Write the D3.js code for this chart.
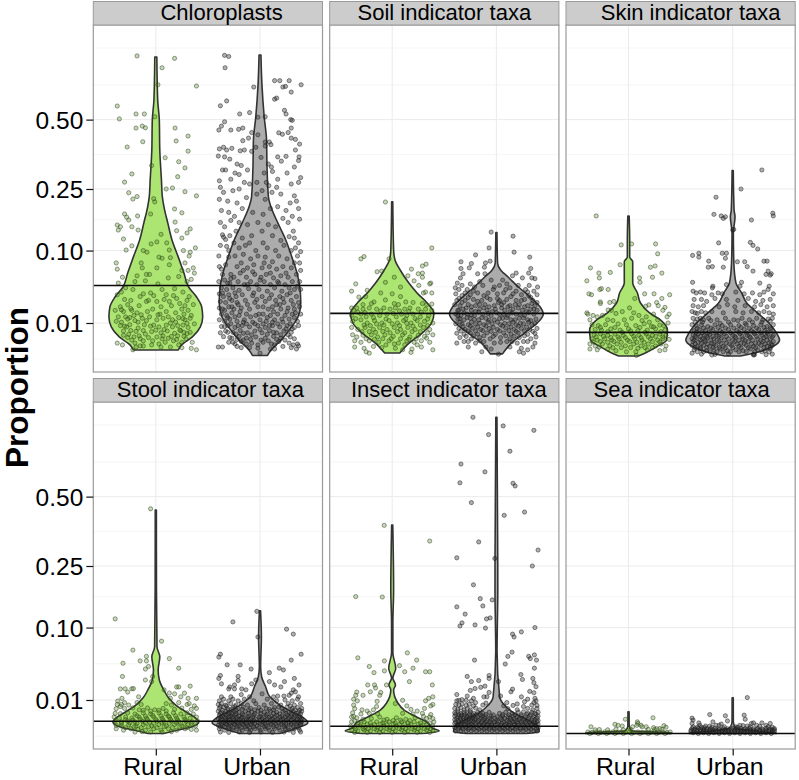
<!DOCTYPE html>
<html><head><meta charset="utf-8">
<script src="https://cdnjs.cloudflare.com/ajax/libs/d3/7.8.5/d3.min.js"></script>
<style>html,body{margin:0;padding:0;background:#fff}svg{display:block}</style></head>
<body><svg id="c" width="799" height="780"></svg>
<script>
const groups=["Rural","Urban"];
const panelTitles=["Chloroplasts","Soil indicator taxa","Skin indicator taxa","Stool indicator taxa","Insect indicator taxa","Sea indicator taxa"];
const yTickValues=[0.01,0.10,0.25,0.50];
const yTickLabels=["0.01","0.10","0.25","0.50"];
const yMinorValues=[-0.00006,0.0433,0.1665,0.364,0.657,0.848];
const panelMeans=[0.045,0.0166,0.0052,0.00133,0.00046,0];
// violins: [proportion, relative density]
const chloroRuralViolin=[[.799,.022],[.586,.04],[.498,.075],[.38,.085],[.278,.12],[.227,.14],[.199,.175],[.159,.255],[.121,.345],[.088,.48],[.062,.6],[.043,.7],[.0315,.87],[.0218,.98],[.0139,1],[.0078,.95],[.0034,.78],[.0012,.55],[.00038,.48]];
const chloroUrbanViolin=[[.81,.02],[.666,.04],[.511,.09],[.418,.14],[.32,.15],[.227,.18],[.199,.235],[.159,.38],[.121,.55],[.088,.68],[.062,.79],[.043,.85],[.0255,.87],[.0139,.81],[.0062,.62],[.0024,.45],[.00038,.235],[.00001,.16]];
const soilRuralViolin=[[.2135,.012],[.101,.03],[.083,.06],[.0667,.17],[.048,.355],[.036,.53],[.0255,.745],[.0166,.89],[.01,.84],[.0049,.64],[.0016,.36],[.00011,.16]];
const soilUrbanViolin=[[.137,.012],[.078,.025],[.0667,.09],[.056,.255],[.043,.47],[.0315,.72],[.0218,.935],[.016,1],[.01,.87],[.0049,.6],[.0016,.32],[.00006,.13]];
const skinRuralViolin=[[.176,.014],[.121,.025],[.088,.025],[.08,.09],[.048,.09],[.036,.19],[.0255,.255],[.0169,.45],[.0119,.68],[.0062,.83],[.0024,.81],[.00085,.6],[.00011,.36],[.000002,.21]];
const skinUrbanViolin=[[.308,.012],[.191,.03],[.174,.05],[.136,.014],[.078,.025],[.048,.07],[.036,.19],[.0255,.3],[.0169,.53],[.01,.77],[.0049,.935],[.0024,1],[.00085,.85],[.00011,.47],[.000002,.17]];
const stoolRuralViolin=[[.445,.012],[.184,.014],[.067,.025],[.0525,.085],[.036,.05],[.0255,.075],[.0169,.17],[.0112,.275],[.0072,.425],[.0042,.64],[.0021,.85],[.0012,.915],[.0004,.77],[.00003,.32],[0,.17]];
const stoolUrbanViolin=[[.134,.012],[.0835,.03],[.04,.014],[.0287,.035],[.0195,.12],[.012,.21],[.0072,.425],[.0042,.68],[.0021,.935],[.00098,1.02],[.00038,.85],[0,.425]];
const insectRuralViolin=[[.387,.012],[.184,.03],[.109,.014],[.0577,.014],[.038,.075],[.0274,.014],[.021,.07],[.0169,.03],[.0083,.12],[.0049,.255],[.0025,.51],[.00098,.77],[.00027,.85],[.00006,1],[0,.64]];
const insectUrbanViolin=[[.891,.012],[.184,.03],[.06,.014],[.012,.07],[.0072,.17],[.0037,.38],[.0016,.68],[.0004,.89],[.00003,.915],[0,.64]];
const seaRuralViolin=[[.0042,.012],[.0005,.014],[.00006,.07],[.000005,.915],[0,.915]];
const seaUrbanViolin=[[.0114,.012],[.0012,.014],[.00027,.07],[.00006,.425],[.000002,.935],[0,.935]];
// jittered points: [jitter, proportion]
const chloroRuralPts=[[-.18,.805],[.18,.792],[.06,.743],[.02,.658],[.39,.652],[-.37,.559],[-.35,.503],[-.19,.524],[-.11,.524],[-.01,.512],[-.19,.465],[-.13,.473],[-.1,.466],[.185,.465],[.31,.433],[-.125,.411],[.195,.414],[-.275,.391],[.31,.376],[.09,.352],[.22,.338],[-.04,.325],[.28,.317],[-.23,.297],[.21,.288],[-.3,.271],[.1,.25],[.16,.253],[.28,.242],[-.26,.239],[-.18,.228],[-.22,.221],[-.02,.222],[.39,.23],[.18,.194],[.25,.184],[.185,.161],[-.05,.181],[-.01,.213],[-.3,.181],[-.28,.173],[-.175,.176],[-.26,.166],[-.37,.154],[-.34,.15],[-.23,.15],[-.36,.1425],[.33,.145],[.3,.136],[-.17,.1425],[.2,.141],[-.31,.123],[.25,.125],[.05,.133],[.01,.117],[-.045,.113],[.105,.115],[-.23,.109],[-.285,.101],[-.12,.1],[-.085,.097],[.13,.101],[.265,.1],[.33,.097],[.38,.105],[.03,.088],[.14,.087],[.32,.09],[.06,.086],[.01,.07],[-.38,.078],[-.37,.068],[-.14,.078],[-.13,.07],[.13,.075],[.28,.078],[.31,.066],[.37,.062],[.36,.07],[.25,.066],[-.06,.06],[-.18,.058],[-.09,.06],[-.32,.056],[-.36,.048],[.12,.055],[.22,.057],[.3,.05],[.34,.053],[-.2,.05],[-.1,.051],[.02,.047],[-.29,.042],[-.22,.04],[.06,.04],[.18,.041],[.26,.037],[-.37,.034],[-.33,.037],[-.12,.035],[-.05,.036],[-.02,.033],[.1,.034],[.2,.03],[.32,.032],[-.3,.029],[-.24,.028],[-.07,.028],[.01,.027],[.13,.027],[.23,.025],[.3,.028],[.36,.024],[-.34,.022],[-.27,.024],[-.16,.023],[.05,.022],[.15,.023],[.25,.02],[-.39,.019],[-.31,.018],[-.23,.019],[-.18,.017],[-.08,.018],[-.03,.02],[.04,.016],[.1,.018],[.19,.017],[.27,.016],[.31,.019],[.34,.015],[-.36,.014],[-.29,.014],[-.25,.0135],[-.21,.015],[-.13,.013],[-.06,.014],[.01,.012],[.07,.013],[.16,.012],[.22,.0135],[.28,.012],[.33,.013],[-.38,.011],[-.33,.0105],[-.3,.0082],[-.25,.009],[-.17,.0105],[-.11,.009],[-.05,.0082],[.03,.0078],[.1,.0088],[.14,.01],[.21,.0085],[.26,.0088],[.31,.0075],[.37,.0095],[-.31,.0058],[-.24,.006],[-.19,.0056],[-.12,.006],[-.04,.0055],[.05,.005],[.11,.0058],[.18,.0048],[.24,.006],[.3,.0047],[-.31,.004],[-.27,.0032],[-.21,.0034],[-.15,.0028],[-.07,.0032],[.01,.0034],[.06,.0028],[.12,.003],[.2,.0026],[.27,.0036],[.29,.0028],[-.37,.0016],[-.32,.0012],[-.2,.0016],[-.15,.001],[-.04,.0012],[.03,.0014],[.22,.0012],[.35,.0018],[-.22,.0004],[-.12,.001],[.34,.0006],[.39,.0004]];
const chloroRuralExtra=[[-.33,.0195],[-.27,.0125],[-.24,.0205],[-.28,.0078],[-.34,.0085],[-.2,.0115],[-.14,.0155],[-.17,.0072],[-.09,.0115],[-.02,.0088],[.02,.0155],[.08,.0065],[.12,.014],[.16,.0078],[.19,.0105],[.23,.0062],[.26,.0128],[.3,.0098],[.33,.0052],[-.26,.0044],[-.16,.0038],[-.1,.0045],[0,.0062],[.07,.0038],[.15,.0036],[.21,.0038],[.27,.0052],[-.23,.0024],[-.12,.0022],[-.03,.0022],[.09,.0018],[.17,.0022],[.25,.0018],[-.19,.0008],[.05,.0008],[.14,.0008],[.25,.0007],[-.09,.027],[-.15,.032],[.08,.029],[.17,.033],[.28,.023]];
const chloroUrbanPts=[[-.34,.808],[-.3,.802],[-.335,.743],[.14,.678],[.19,.678],[.28,.678],[.395,.658],[-.06,.647],[.22,.647],[.245,.65],[.3,.623],[.14,.59],[.16,.595],[-.32,.582],[-.38,.56],[.235,.54],[-.1,.53],[-.195,.524],[.25,.524],[.05,.512],[-.02,.51],[-.34,.491],[.295,.5],[.31,.497],[-.37,.473],[-.395,.457],[-.28,.457],[-.205,.46],[-.165,.465],[.3,.465],[.18,.446],[.215,.44],[.27,.447],[-.08,.447],[-.02,.438],[-.11,.425],[.3,.425],[.34,.42],[-.165,.415],[.05,.41],[.09,.41],[.38,.402],[.105,.4],[-.39,.384],[-.35,.39],[-.32,.38],[-.27,.386],[-.19,.377],[-.15,.38],[-.08,.375],[-.04,.39],[.05,.395],[.34,.38],[-.4,.358],[-.34,.355],[-.29,.347],[.375,.355],[.17,.355],[.25,.357],[.205,.34],[.37,.342],[.01,.353],[-.22,.33],[-.18,.325],[.08,.33],[.11,.32],[.33,.32],[-.36,.31],[-.33,.31],[-.24,.3],[-.2,.295],[-.12,.31],[.04,.3],[.12,.305],[.26,.3],[.39,.285],[.17,.28],[-.39,.275],[-.28,.28],[-.15,.27],[-.1,.265],[-.03,.27],[.06,.27],[.085,.26],[.16,.255],[.3,.265],[.37,.27],[-.38,.255],[-.35,.24],[-.26,.245],[-.2,.25],[.02,.245],[.115,.24],[.2,.235],[.33,.23],[-.39,.22],[-.31,.215],[-.22,.21],[-.13,.225],[-.03,.235],[.05,.22],[.29,.21],[.35,.215],[.37,.195],[.25,.19],[.17,.2],[.1,.195],[-.17,.195],[-.37,.19],[-.3,.185],[-.245,.175],[-.07,.185],[.03,.18],[.22,.17],[.31,.175],[.38,.168],[-.38,.16],[-.34,.15],[-.28,.165],[-.2,.16],[-.12,.155],[-.02,.16],[.08,.155],[.15,.15],[.27,.16],[.32,.14],[-.36,.132],[-.35,.127],[-.33,.122],[-.29,.13],[-.23,.14],[-.17,.125],[-.08,.13],[.02,.14],[.12,.13],[.2,.12],[.28,.128],[.33,.125],[.37,.115],[-.38,.11],[-.32,.108],[-.3,.1],[-.25,.115],[-.2,.105],[-.14,.11],[-.1,.115],[-.04,.1],[.03,.115],[.07,.105],[.15,.1],[.23,.11],[.3,.1],[.34,.105],[.39,.098],[-.395,.09],[-.3,.088],[-.24,.09],[-.16,.093],[-.09,.085],[-.02,.09],[.05,.088],[.12,.08],[.18,.09],[.26,.085],[.36,.09],[.38,.078],[-.39,.072],[-.37,.068],[-.33,.075],[-.22,.072],[-.18,.078],[-.12,.07],[-.06,.075],[.02,.07],[.09,.072],[.16,.068],[.22,.072],[.3,.07],[.33,.078],[.39,.066],[-.36,.06],[-.28,.06],[-.25,.056],[-.19,.062],[-.13,.056],[-.05,.06],[.01,.056],[.06,.06],[.13,.055],[.2,.058],[.27,.056],[.35,.06],[-.395,.05],[-.34,.052],[-.29,.048],[-.21,.05],[-.15,.046],[-.09,.05],[-.03,.046],[.04,.05],[.1,.046],[.17,.05],[.24,.046],[.31,.05],[.38,.05],[-.37,.042],[-.32,.04],[-.26,.042],[-.2,.039],[-.11,.041],[-.01,.04],[.07,.038],[.14,.042],[.21,.038],[.28,.042],[.33,.04],[.39,.04],[-.39,.035],[-.35,.032],[-.3,.034],[-.23,.032],[-.17,.034],[-.07,.033],[.02,.032],[.11,.034],[.19,.032],[.26,.034],[.35,.032],[-.38,.027],[-.33,.026],[-.27,.028],[-.22,.026],[-.14,.028],[-.05,.026],[.05,.027],[.15,.028],[.23,.026],[.3,.028],[.37,.026],[-.39,.021],[-.36,.02],[-.3,.022],[-.25,.02],[-.18,.021],[-.1,.02],[-.02,.022],[.08,.02],[.12,.022],[.2,.02],[.27,.021],[.33,.02],[.38,.022],[-.37,.016],[-.32,.015],[-.27,.017],[-.2,.015],[-.13,.016],[-.04,.015],[.03,.016],[.1,.015],[.17,.016],[.24,.015],[.31,.016],[.39,.016],[-.39,.012],[-.34,.011],[-.29,.0125],[-.22,.011],[-.15,.012],[-.07,.0105],[0,.012],[.06,.011],[.14,.012],[.22,.0105],[.28,.0125],[.36,.011],[-.37,.008],[-.31,.0085],[-.24,.0075],[-.17,.0085],[-.1,.0078],[-.02,.0085],[.05,.0075],[.12,.0085],[.19,.0078],[.26,.0085],[.33,.0075],[.37,.0085],[-.38,.005],[-.33,.0058],[-.26,.0052],[-.19,.006],[-.12,.005],[-.05,.0058],[.02,.005],[.09,.006],[.16,.005],[.23,.0058],[.3,.0052],[-.35,.0035],[-.27,.003],[-.2,.0036],[-.13,.003],[-.04,.0034],[.05,.003],[.13,.0036],[.2,.003],[.29,.0034],[.33,.0028],[-.3,.0018],[-.24,.0014],[-.18,.002],[-.08,.0016],[.03,.0018],[.11,.0014],[.18,.002],[.28,.0016],[.36,.0014],[-.4,.0008],[-.36,.0008],[-.22,.0009],[-.1,.0007],[-.02,.0006],[.1,.0005],[.14,.0005],[.35,.0005],[0,.0001],[.37,.001]];
const chloroUrbanExtra=[[-.31,.048],[-.24,.036],[-.28,.054],[-.16,.066],[-.07,.064],[.04,.078],[.1,.062],[.18,.048],[.25,.062],[.29,.036],[.36,.044],[-.36,.036],[-.29,.03],[-.21,.024],[-.12,.046],[-.06,.036],[0,.052],[.09,.03],[.16,.024],[.22,.03],[.32,.024],[-.34,.019],[-.27,.022],[-.19,.018],[-.12,.024],[-.03,.029],[.03,.022],[.13,.018],[.19,.024],[.26,.018],[.34,.017],[-.31,.0135],[-.24,.014],[-.16,.0105],[-.09,.014],[-.01,.016],[.07,.0135],[.12,.0105],[.21,.0125],[.29,.0095],[.33,.0135],[-.34,.008],[-.28,.0095],[-.21,.0085],[-.13,.0095],[-.05,.0095],[.03,.0095],[.09,.0085],[.17,.0095],[.25,.0068],[.31,.0068],[-.31,.0052],[-.23,.0044],[-.16,.0048],[-.08,.0042],[0,.0065],[.07,.0044],[.13,.0052],[.2,.0042],[.27,.0042],[-.29,.0032],[-.22,.0026],[-.16,.0024],[-.09,.0026],[.01,.0024],[.08,.0022],[.16,.0026],[.24,.0024],[-.26,.0018],[-.13,.0014],[-.02,.0012],[.14,.0012],[.32,.0012],[-.18,.0007],[.22,.0009],[.3,.0007]];
const soilRuralPts=[[-.065,.2127],[.38,.105],[-.27,.089],[-.3,.085],[-.03,.085],[.325,.076],[.29,.073],[.185,.068],[-.145,.064],[-.1,.065],[.29,.062],[.25,.061],[.29,.056],[.15,.058],[.02,.056],[.21,.051],[.37,.048],[-.35,.047],[.36,.047],[-.065,.049],[.08,.043],[-.39,.038],[-.24,.039],[.255,.045],[.32,.037],[.38,.036],[.3,.036],[-.32,.0315],[-.255,.032],[-.11,.036],[0,.035],[.08,.032],[-.065,.0285],[.13,.0265],[-.175,.0265],[.38,.0245],[-.2,.025],[-.28,.024],[.02,.025],[.06,.024],[.2,.026],[.29,.025],[.33,.024],[-.39,.021],[-.37,.019],[-.34,.021],[-.28,.02],[-.22,.021],[-.15,.02],[-.08,.021],[-.02,.02],[.03,.021],[.12,.02],[.17,.021],[.25,.02],[.32,.02],[.38,.019],[-.39,.015],[-.3,.016],[-.25,.014],[-.2,.016],[-.12,.015],[-.05,.016],[.04,.014],[.09,.016],[.14,.015],[.2,.016],[.27,.014],[.35,.015],[-.38,.011],[-.3,.012],[-.24,.01],[-.17,.0115],[-.1,.01],[-.03,.0115],[.05,.01],[.11,.0115],[.18,.01],[.24,.0115],[.31,.011],[.39,.01],[-.39,.0075],[-.33,.0065],[-.26,.0075],[-.18,.0065],[-.12,.0075],[-.05,.0065],[.02,.0075],[.08,.0065],[.15,.0075],[.22,.0065],[.3,.0075],[.36,.0065],[-.38,.0042],[-.34,.0034],[-.28,.004],[-.2,.0042],[-.14,.0034],[-.07,.0042],[.01,.0036],[.1,.0042],[.17,.0034],[.25,.004],[.31,.0036],[.39,.0042],[-.36,.0022],[-.3,.0018],[-.22,.0022],[-.13,.0018],[-.03,.0022],[.06,.0016],[.14,.0022],[.21,.0018],[.28,.0022],[.36,.0018],[-.36,.0008],[-.27,.0006],[-.18,.0009],[-.1,.0007],[.03,.0006],[.1,.0004],[.19,.0005],[.28,.0008],[.39,.0004],[-.25,.0002],[-.22,.0001],[.18,.00015]];
const soilRuralExtra=[[-.33,.0175],[-.26,.0172],[-.18,.0135],[-.11,.0185],[-.06,.0125],[.01,.0165],[.07,.0185],[.13,.0125],[.16,.018],[.22,.0128],[.28,.0175],[.34,.0125],[-.35,.0128],[-.27,.0088],[-.21,.0085],[-.15,.0095],[-.08,.0088],[0,.0095],[.07,.0085],[.14,.0098],[.2,.0082],[.27,.0088],[.34,.0085],[-.29,.0055],[-.22,.0055],[-.16,.0052],[-.09,.0056],[-.02,.005],[.05,.0055],[.12,.005],[.19,.0055],[.27,.0055],[.34,.005],[-.25,.0028],[-.17,.0026],[-.09,.0028],[-.01,.0028],[.08,.0028],[.16,.0026],[.23,.0028],[.33,.003],[-.06,.0012],[.02,.0014],[.12,.0012],[.24,.0012]];
const soilUrbanPts=[[-.05,.138],[.16,.129],[-.07,.105],[.17,.097],[-.2,.092],[.32,.088],[-.34,.08],[-.06,.081],[-.105,.078],[-.24,.077],[-.26,.07],[-.34,.069],[-.115,.071],[.33,.069],[.31,.062],[-.32,.061],[-.18,.061],[-.11,.061],[.19,.062],[.155,.058],[.25,.055],[.34,.055],[.37,.054],[-.345,.055],[-.375,.048],[.395,.043],[.315,.045],[-.395,.042],[-.16,.05],[-.05,.052],[.06,.052],[.1,.047],[-.25,.047],[-.33,.045],[-.36,.04],[-.28,.04],[-.21,.043],[-.13,.045],[-.02,.043],[.03,.045],[.13,.042],[.21,.045],[.28,.04],[.36,.038],[.39,.034],[-.39,.035],[-.33,.033],[-.25,.034],[-.18,.036],[-.08,.036],[.01,.035],[.07,.036],[.16,.035],[.24,.034],[.31,.033],[-.38,.028],[-.3,.028],[-.22,.029],[-.14,.028],[-.06,.029],[.03,.028],[.1,.029],[.19,.028],[.27,.029],[.35,.028],[.39,.026],[-.4,.024],[-.35,.023],[-.27,.024],[-.2,.023],[-.11,.024],[-.02,.023],[.05,.024],[.13,.023],[.22,.024],[.3,.023],[.37,.023],[-.37,.019],[-.32,.02],[-.24,.019],[-.16,.02],[-.09,.019],[-.01,.02],[.08,.019],[.16,.02],[.25,.019],[.33,.02],[.39,.019],[-.39,.016],[-.34,.015],[-.28,.016],[-.21,.015],[-.13,.016],[-.05,.015],[.03,.016],[.11,.015],[.19,.016],[.27,.015],[.36,.016],[-.37,.0125],[-.31,.012],[-.25,.013],[-.17,.012],[-.1,.013],[-.02,.012],[.06,.013],[.14,.012],[.22,.013],[.3,.012],[.38,.0125],[-.39,.0095],[-.33,.0095],[-.27,.009],[-.2,.0095],[-.12,.009],[-.04,.0095],[.04,.009],[.12,.0095],[.19,.009],[.26,.0095],[.34,.009],[-.36,.007],[-.3,.0065],[-.23,.0072],[-.15,.0065],[-.07,.007],[.01,.0065],[.09,.0072],[.17,.0065],[.24,.007],[.32,.0065],[.39,.007],[-.38,.0048],[-.31,.0044],[-.25,.005],[-.18,.0045],[-.09,.005],[-.01,.0044],[.07,.005],[.14,.0045],[.21,.005],[.3,.0044],[.37,.0048],[-.35,.0032],[-.24,.0028],[-.16,.0032],[-.06,.0028],[.04,.0032],[.13,.0028],[.22,.0032],[.33,.0028],[.38,.0034],[-.38,.0016],[-.31,.002],[-.2,.0016],[-.12,.002],[-.02,.0016],[.1,.002],[.2,.0016],[.3,.002],[.37,.0016],[-.27,.0008],[-.1,.0008],[-.05,.0005],[.13,.0008],[.24,.0006],[.3,.0004],[.35,.0008],[-.14,.0002],[.02,.00005],[.22,.0002],[.26,.0001]];
const soilUrbanExtra=[[-.3,.036],[-.22,.038],[-.12,.033],[-.03,.04],[.09,.04],[.19,.038],[.3,.037],[-.36,.03],[-.27,.031],[-.18,.027],[-.09,.031],[.01,.03],[.07,.026],[.14,.032],[.24,.028],[.33,.031],[-.33,.026],[-.24,.022],[-.16,.024],[-.07,.022],[.02,.026],[.11,.022],[.18,.024],[.27,.022],[.34,.025],[-.36,.019],[-.29,.021],[-.2,.018],[-.12,.021],[-.04,.018],[.05,.021],[.13,.018],[.21,.021],[.29,.018],[.36,.02],[-.37,.015],[-.31,.017],[-.24,.0155],[-.17,.0175],[-.08,.0165],[0,.0172],[.07,.016],[.15,.017],[.23,.016],[.31,.0172],[-.35,.0128],[-.28,.0135],[-.21,.0122],[-.14,.0135],[-.07,.0118],[.03,.0128],[.1,.0135],[.18,.012],[.26,.0132],[.33,.0115],[-.35,.0105],[-.24,.0105],[-.16,.0098],[-.08,.0105],[.01,.0105],[.08,.0098],[.16,.0105],[.23,.0098],[.31,.0105],[.37,.0098],[-.32,.008],[-.25,.0082],[-.18,.0078],[-.1,.0082],[-.03,.0076],[.06,.0082],[.14,.0078],[.21,.0082],[.29,.0078],[-.34,.0058],[-.27,.0058],[-.2,.0058],[-.13,.006],[-.05,.0056],[.03,.0058],[.12,.006],[.19,.0056],[.27,.0058],[.35,.0056],[-.29,.0036],[-.22,.0038],[-.12,.0038],[-.03,.0036],[.09,.0038],[.17,.0036],[.27,.0038],[-.27,.002],[-.16,.0022],[.04,.0018],[.15,.002],[.26,.002]];
const skinRuralPts=[[-.31,.176],[-.07,.111],[.03,.113],[.26,.113],[.28,.094],[-.08,.075],[.21,.071],[.255,.073],[-.365,.07],[-.285,.062],[-.175,.063],[.32,.062],[-.28,.055],[.105,.055],[.23,.056],[-.4,.051],[.11,.049],[-.26,.041],[-.275,.04],[-.195,.04],[.155,.035],[.245,.035],[-.38,.035],[-.355,.034],[.395,.034],[.06,.03],[.32,.03],[-.27,.0265],[-.27,.025],[-.14,.027],[-.18,.026],[.27,.026],[.195,.0237],[.165,.0225],[.285,.023],[.35,.0215],[-.195,.0193],[-.165,.019],[-.4,.0169],[-.39,.016],[.33,.019],[.01,.021],[.39,.016],[-.34,.015],[-.3,.014],[-.25,.015],[-.12,.0165],[-.06,.018],[.05,.017],[.1,.015],[.17,.014],[.24,.016],[.37,.014],[-.37,.012],[-.2,.012],[-.15,.0115],[-.04,.012],[.03,.013],[.13,.0115],[.2,.0105],[.28,.012],[.38,.01],[-.35,.009],[-.29,.0085],[-.22,.009],[-.1,.0095],[-.02,.009],[.07,.0085],[.15,.0095],[.22,.008],[.3,.0088],[.34,.0085],[-.32,.0065],[-.26,.0062],[-.17,.0068],[-.08,.0062],[0,.0068],[.09,.006],[.18,.0062],[.26,.0068],[.35,.0062],[-.33,.0042],[-.27,.0046],[-.2,.004],[-.13,.0045],[-.05,.004],[.03,.0046],[.1,.004],[.17,.0045],[.23,.004],[.3,.0045],[.36,.004],[-.35,.0028],[-.3,.0024],[-.23,.0028],[-.16,.0024],[-.09,.0028],[-.01,.0024],[.06,.0028],[.13,.0024],[.21,.0028],[.28,.0024],[.33,.0028],[.39,.0026],[-.37,.0014],[-.32,.001],[-.25,.0014],[-.18,.001],[-.11,.0014],[-.03,.001],[.05,.0014],[.12,.001],[.19,.0014],[.26,.001],[.31,.0014],[.36,.001],[-.37,.0005],[-.3,.0004],[-.2,.0005],[-.12,.0003],[-.02,.0002],[.07,.0002],[.18,.0004],[.3,.0003],[.35,.0004],[.075,.00001]];
const skinRuralExtra=[[-.27,.0075],[-.2,.0055],[-.13,.0075],[-.06,.0052],[.02,.0058],[.11,.0075],[.16,.0052],[.24,.0078],[.31,.0055],[-.31,.0034],[-.24,.0036],[-.17,.0032],[-.1,.0034],[-.03,.0032],[.05,.0036],[.12,.0032],[.19,.0034],[.26,.0036],[.33,.0034],[-.34,.0019],[-.27,.002],[-.2,.0018],[-.14,.002],[-.07,.0018],[.01,.002],[.08,.0018],[.15,.0018],[.23,.002],[.3,.0019],[-.28,.0008],[-.15,.0007],[-.07,.0007],[.02,.0007],[.09,.0006],[.16,.0007],[.23,.0007]];
const skinUrbanPts=[[.28,.31],[.08,.25],[-.16,.226],[-.18,.18],[-.11,.176],[-.09,.17],[-.07,.174],[.18,.166],[.385,.183],[.39,.176],[0,.1425],[.01,.144],[-.135,.115],[.17,.116],[.195,.11],[.24,.103],[-.1,.095],[-.06,.095],[-.325,.095],[-.385,.091],[-.325,.088],[-.07,.086],[-.23,.081],[.045,.08],[.115,.08],[.3,.081],[.33,.081],[-.235,.071],[-.195,.072],[-.09,.071],[.14,.072],[.195,.065],[.34,.065],[.37,.061],[.32,.06],[.36,.059],[-.385,.049],[.085,.049],[-.19,.044],[-.195,.042],[.26,.048],[-.06,.046],[.35,.044],[.34,.04],[.07,.044],[-.38,.038],[-.35,.036],[-.31,.037],[-.27,.036],[-.2,.034],[-.14,.036],[-.1,.035],[.03,.037],[.11,.035],[.19,.036],[.26,.034],[.3,.037],[.39,.035],[-.37,.029],[-.3,.029],[-.25,.027],[-.17,.03],[-.06,.029],[.05,.028],[.15,.03],[.22,.027],[.29,.028],[.36,.029],[-.38,.023],[-.33,.022],[-.28,.023],[-.13,.022],[-.05,.024],[.02,.022],[.12,.023],[.21,.022],[.27,.024],[.33,.022],[.39,.023],[-.39,.018],[-.36,.017],[-.34,.0165],[-.3,.018],[-.26,.017],[-.2,.018],[-.09,.017],[.03,.018],[.1,.017],[.18,.018],[.25,.017],[.3,.018],[.35,.017],[.39,.016],[-.38,.013],[-.34,.0125],[-.31,.013],[-.28,.012],[-.23,.013],[-.15,.012],[-.07,.013],[.01,.012],[.09,.013],[.16,.012],[.23,.013],[.29,.012],[.34,.0125],[.38,.013],[-.39,.009],[-.35,.0085],[-.3,.009],[-.24,.008],[-.17,.009],[-.1,.0085],[-.02,.009],[.06,.0085],[.13,.009],[.2,.0085],[.27,.009],[.33,.008],[.39,.009],[-.37,.006],[-.32,.0065],[-.26,.006],[-.19,.0065],[-.12,.006],[-.04,.0065],[.04,.006],[.11,.0065],[.18,.006],[.25,.0065],[.31,.006],[.37,.0065],[-.38,.0042],[-.33,.0046],[-.27,.004],[-.22,.0044],[-.15,.004],[-.08,.0046],[0,.004],[.07,.0046],[.14,.004],[.21,.0046],[.28,.004],[.34,.0044],[.39,.004],[-.39,.0028],[-.35,.0032],[-.29,.0028],[-.24,.0032],[-.18,.0028],[-.11,.0032],[-.04,.0028],[.03,.0032],[.1,.0028],[.17,.0032],[.24,.0028],[.3,.0032],[.36,.0028],[-.38,.002],[-.33,.0018],[-.26,.002],[-.2,.0016],[-.13,.002],[-.06,.0016],[.02,.002],[.08,.0016],[.15,.002],[.22,.0016],[.29,.002],[.35,.0016],[.39,.002],[-.39,.0011],[-.34,.0009],[-.28,.0011],[-.22,.0009],[-.16,.0011],[-.09,.0009],[-.01,.0011],[.06,.0009],[.13,.0011],[.2,.0009],[.27,.0011],[.33,.0009],[.38,.0011],[-.37,.0004],[-.31,.0005],[-.25,.0003],[-.18,.0004],[-.12,.0005],[-.05,.0003],[.03,.0004],[.1,.0003],[.17,.0005],[.24,.0004],[.31,.0003],[.36,.0005],[-.39,.0001],[-.3,.00005],[-.2,.00002],[-.17,.00004],[-.04,.00006],[.2,.00002],[.2,.00005],[.21,.00003],[.32,.00003],[.38,.00005]];
const skinUrbanExtra=[[-.36,.0105],[-.29,.0105],[-.21,.0115],[-.12,.0098],[-.04,.0105],[.05,.0115],[.12,.0098],[.19,.0105],[.28,.0105],[.36,.0112],[-.34,.007],[-.28,.0072],[-.21,.0072],[-.14,.0075],[-.07,.0072],[.01,.0072],[.08,.0075],[.16,.007],[.23,.0072],[.3,.0075],[.36,.007],[-.35,.0052],[-.29,.005],[-.23,.0052],[-.16,.005],[-.1,.0052],[-.02,.005],[.06,.0052],[.13,.005],[.2,.0052],[.27,.005],[.33,.0052],[-.36,.0036],[-.31,.0036],[-.25,.0036],[-.19,.0036],[-.13,.0036],[-.06,.0036],[.02,.0036],[.09,.0036],[.16,.0036],[.23,.0036],[.32,.0036],[.38,.0034],[-.37,.0024],[-.31,.0024],[-.27,.0023],[-.21,.0024],[-.15,.0023],[-.08,.0024],[0,.0023],[.06,.0024],[.12,.0023],[.19,.0024],[.27,.0023],[.33,.0024],[-.36,.0014],[-.3,.0015],[-.24,.0014],[-.18,.0014],[-.11,.0015],[-.03,.0014],[.04,.0014],[.11,.0015],[.18,.0014],[.25,.0015],[.31,.0014],[.37,.0014],[-.36,.0007],[-.31,.0007],[-.25,.0007],[-.19,.0007],[-.13,.0007],[-.07,.0007],[0,.0007],[.08,.0007],[.15,.0007],[.22,.0007],[.3,.0007],[.36,.0007],[-.34,.0002],[-.28,.0002],[-.22,.0002],[-.15,.0002],[-.09,.0002],[-.02,.0002],[.06,.0002],[.13,.0002],[.21,.0002],[.28,.0002],[.35,.0002]];
const stoolRuralPts=[[-.05,.45],[-.39,.117],[.055,.076],[-.22,.062],[-.09,.053],[-.09,.047],[-.15,.047],[.13,.05],[-.315,.044],[-.07,.04],[-.1,.037],[.22,.038],[-.32,.029],[-.03,.029],[-.1,.0255],[-.04,.024],[.2,.0193],[.22,.0193],[.33,.02],[-.34,.0177],[-.295,.0178],[-.27,.0153],[-.23,.0178],[-.215,.018],[.08,.0169],[.13,.0146],[.18,.014],[.275,.0145],[-.165,.012],[.31,.011],[.39,.011],[-.325,.011],[-.365,.0094],[.14,.011],[.24,.012],[-.3,.0085],[-.33,.0075],[-.37,.0075],[-.34,.0065],[-.26,.0072],[-.18,.0085],[-.14,.0075],[.1,.008],[.15,.0072],[.22,.0085],[.3,.0075],[.32,.008],[.37,.0068],[-.38,.0055],[-.3,.0056],[-.22,.0058],[-.16,.005],[-.08,.0058],[-.01,.005],[.07,.0056],[.18,.0052],[.25,.0058],[.34,.0052],[.39,.0056],[-.39,.0036],[-.34,.0035],[-.27,.0038],[-.2,.0034],[-.12,.0038],[-.05,.0034],[.03,.0038],[.1,.0034],[.17,.0038],[.24,.0034],[.3,.0038],[.36,.0034],[-.4,.0024],[-.35,.0021],[-.29,.0024],[-.23,.0021],[-.16,.0024],[-.09,.0021],[-.02,.0024],[.06,.0021],[.13,.0024],[.2,.0021],[.27,.0024],[.33,.0021],[.39,.0024],[-.39,.0014],[-.33,.0012],[-.27,.0014],[-.2,.0012],[-.13,.0014],[-.06,.0012],[.01,.0014],[.08,.0012],[.15,.0014],[.22,.0012],[.29,.0014],[.35,.0012],[.4,.0014],[-.38,.0006],[-.33,.0005],[-.26,.0007],[-.19,.0005],[-.12,.0007],[-.04,.0005],[.03,.0007],[.1,.0005],[.18,.0007],[.25,.0005],[.31,.0007],[.38,.0005],[-.38,.0002],[-.31,.0001],[-.24,.0002],[-.17,.00015],[-.1,.0001],[-.02,.0002],[.05,.0001],[.12,.0002],[.2,.0001],[.28,.0002],[.34,.00015],[.39,.0001],[-.2,.00002],[-.13,.00003],[-.05,.00002],[.06,.00002],[.15,.00003]];
const stoolRuralExtra=[[-.29,.0017],[-.22,.0016],[-.15,.0018],[-.08,.0017],[0,.0018],[.07,.0016],[.14,.0018],[.21,.0016],[.28,.0018],[-.33,.0009],[-.25,.001],[-.18,.0009],[-.1,.001],[-.02,.0009],[.06,.001],[.13,.0009],[.2,.001],[.27,.0009],[.34,.0009],[-.29,.0003],[-.21,.0004],[-.14,.0003],[-.07,.0004],[.01,.0003],[.08,.0004],[.16,.0003],[.23,.0004],[.3,.0003],[-.18,.0028],[-.1,.0027],[-.03,.0029],[.05,.0028],[.12,.0027],[.19,.0028],[-.12,.0048],[-.05,.0045],[.03,.0048],[.1,.0045]];
const stoolUrbanPts=[[-.03,.133],[-.26,.111],[.255,.097],[.32,.088],[-.02,.083],[.395,.056],[-.38,.056],[-.395,.052],[.3,.048],[-.315,.042],[-.19,.042],[-.085,.037],[.185,.038],[.225,.036],[.09,.033],[-.38,.03],[-.395,.027],[-.21,.029],[-.04,.0255],[.33,.027],[.09,.024],[.235,.024],[-.21,.025],[-.37,.022],[-.08,.022],[-.29,.0193],[-.245,.021],[.375,.021],[.2,.0193],[.14,.021],[-.3,.0177],[-.175,.0177],[-.135,.017],[-.245,.0177],[.32,.017],[.3,.0145],[.34,.0155],[-.37,.012],[-.28,.012],[-.18,.0135],[-.1,.012],[.02,.014],[.13,.012],[.17,.0125],[.23,.0125],[.28,.013],[.37,.012],[-.39,.0095],[-.35,.0105],[-.3,.0095],[-.26,.0105],[-.21,.0095],[-.15,.0105],[-.06,.0095],[.07,.0105],[.16,.0095],[.24,.01],[.31,.0095],[.36,.0105],[-.4,.0075],[-.37,.008],[-.33,.0072],[-.28,.008],[-.23,.0072],[-.18,.008],[-.12,.0072],[-.04,.008],[.04,.0072],[.11,.008],[.2,.0072],[.27,.008],[.33,.0072],[.39,.008],[-.39,.0056],[-.35,.0062],[-.31,.0056],[-.26,.006],[-.21,.0056],[-.16,.0062],[-.09,.0056],[-.01,.006],[.06,.0056],[.14,.006],[.21,.0056],[.26,.0062],[.31,.0056],[.36,.006],[.4,.0056],[-.4,.0044],[-.37,.004],[-.33,.0044],[-.29,.004],[-.25,.0044],[-.2,.004],[-.14,.0044],[-.08,.004],[-.02,.0044],[.04,.004],[.1,.0044],[.16,.004],[.22,.0044],[.28,.004],[.32,.0044],[.37,.004],[.4,.0044],[-.39,.003],[-.36,.0027],[-.32,.003],[-.28,.0027],[-.24,.003],[-.2,.0027],[-.16,.003],[-.11,.0027],[-.06,.003],[0,.0027],[.06,.003],[.11,.0027],[.16,.003],[.21,.0027],[.26,.003],[.3,.0027],[.34,.003],[.38,.0027],[-.4,.002],[-.37,.0018],[-.33,.002],[-.3,.0018],[-.26,.002],[-.22,.0018],[-.18,.002],[-.13,.0018],[-.09,.002],[-.04,.0018],[.02,.002],[.07,.0018],[.12,.002],[.17,.0018],[.22,.002],[.27,.0018],[.32,.002],[.36,.0018],[.4,.002],[-.39,.0012],[-.35,.0011],[-.31,.0012],[-.27,.0011],[-.23,.0012],[-.19,.0011],[-.15,.0012],[-.11,.0011],[-.07,.0012],[-.02,.0011],[.03,.0012],[.08,.0011],[.13,.0012],[.18,.0011],[.23,.0012],[.28,.0011],[.33,.0012],[.37,.0011],[.4,.0012],[-.4,.0006],[-.36,.0006],[-.32,.0007],[-.28,.0005],[-.24,.0007],[-.2,.0005],[-.16,.0007],[-.12,.0005],[-.08,.0007],[-.03,.0005],[.02,.0007],[.06,.0005],[.11,.0007],[.16,.0005],[.21,.0007],[.25,.0005],[.3,.0007],[.35,.0005],[.39,.0007],[-.39,.0002],[-.34,.0001],[-.3,.0002],[-.26,.0001],[-.22,.0002],[-.17,.0001],[-.13,.0002],[-.09,.0001],[-.05,.0002],[0,.0001],[.05,.0002],[.09,.0001],[.14,.0002],[.19,.0001],[.24,.0002],[.28,.0001],[.33,.0002],[.38,.0001],[-.38,.00002],[-.3,.00001],[-.2,.00002],[-.1,.00001],[.01,.00002],[.12,.00001],[.23,.00002],[.32,.00001],[.39,.00002]];
const stoolUrbanExtra=[[-.38,.0065],[-.32,.0068],[-.24,.0065],[-.17,.0052],[-.05,.005],[.09,.0052],[.18,.0062],[.29,.0068],[.34,.005],[-.36,.0048],[-.31,.005],[-.27,.0052],[-.23,.0048],[-.11,.005],[.01,.0048],[.13,.005],[.24,.0048],[.3,.005],[.38,.0048],[-.38,.0036],[-.34,.0035],[-.3,.0034],[-.27,.0036],[-.23,.0035],[-.17,.0034],[-.11,.0036],[-.05,.0034],[.01,.0035],[.07,.0034],[.13,.0036],[.19,.0034],[.25,.0036],[.3,.0034],[.35,.0036],[.39,.0034],[-.38,.0024],[-.34,.0023],[-.3,.0024],[-.26,.0025],[-.22,.0023],[-.17,.0024],[-.12,.0023],[-.07,.0024],[-.01,.0023],[.04,.0024],[.09,.0023],[.14,.0024],[.19,.0023],[.24,.0024],[.28,.0023],[.33,.0024],[.38,.0023],[-.38,.0015],[-.33,.0015],[-.29,.0016],[-.25,.0015],[-.2,.0016],[-.16,.0015],[-.11,.0016],[-.06,.0015],[0,.0016],[.05,.0015],[.1,.0016],[.15,.0015],[.2,.0016],[.25,.0015],[.3,.0016],[.35,.0015],[.39,.0016],[-.37,.0009],[-.33,.0009],[-.29,.0009],[-.25,.0009],[-.21,.0009],[-.17,.0009],[-.13,.0009],[-.09,.0009],[-.05,.0009],[0,.0009],[.05,.0009],[.1,.0009],[.15,.0009],[.2,.0009],[.25,.0009],[.3,.0009],[.35,.0009],[.39,.0009],[-.38,.0004],[-.34,.0004],[-.3,.0004],[-.26,.0003],[-.22,.0004],[-.18,.0003],[-.14,.0004],[-.1,.0003],[-.06,.0004],[-.01,.0003],[.04,.0004],[.08,.0003],[.13,.0004],[.18,.0003],[.23,.0004],[.27,.0003],[.32,.0004],[.37,.0003]];
const insectRuralPts=[[-.077,.386],[.36,.33],[-.35,.167],[-.095,.166],[-.33,.051],[.145,.058],[-.075,.047],[.235,.048],[-.22,.04],[.07,.041],[.2,.038],[-.075,.035],[-.175,.033],[.12,.034],[.32,.034],[.36,.034],[.165,.024],[-.235,.021],[-.17,.021],[-.055,.021],[.385,.021],[-.16,.0185],[-.34,.0153],[-.21,.0155],[-.28,.013],[-.11,.015],[-.12,.013],[.39,.012],[.35,.011],[-.35,.013],[-.37,.0105],[-.335,.0095],[-.145,.0092],[.32,.0095],[.1,.0098],[-.37,.0072],[.03,.008],[.14,.0068],[.37,.0068],[.39,.0075],[-.15,.0065],[-.36,.0055],[-.29,.005],[-.24,.0045],[-.18,.005],[.18,.0052],[.24,.0045],[.31,.0056],[-.38,.0038],[-.3,.0034],[-.22,.0036],[-.14,.0034],[.1,.0036],[.2,.0034],[.29,.0036],[.37,.0032],[-.39,.0024],[-.37,.0026],[-.34,.0022],[-.28,.0018],[-.2,.002],[-.12,.0024],[-.05,.0018],[.04,.0022],[.13,.0018],[.22,.0022],[.3,.0026],[.33,.002],[.36,.0024],[.39,.002],[-.39,.0012],[-.36,.0014],[-.33,.001],[-.27,.0012],[-.21,.001],[-.15,.0012],[-.09,.001],[-.03,.0012],[.03,.001],[.09,.0012],[.15,.001],[.21,.0012],[.27,.001],[.31,.0012],[.36,.001],[.4,.0012],[-.4,.0005],[-.36,.0004],[-.31,.0005],[-.26,.0003],[-.2,.0005],[-.14,.0003],[-.08,.0005],[-.02,.0003],[.04,.0005],[.1,.0003],[.16,.0005],[.22,.0003],[.28,.0005],[.34,.0003],[.39,.0005],[-.39,.00012],[-.33,.00006],[-.27,.00012],[-.21,.00006],[-.15,.00012],[-.09,.00006],[-.03,.00012],[.03,.00006],[.09,.00012],[.15,.00006],[.21,.00012],[.27,.00006],[.33,.00012],[.39,.00006],[-.36,.00001],[-.24,.00001],[-.12,.00001],[0,.00001],[.12,.00001],[.24,.00001],[.36,.00001]];
const insectRuralExtra=[[-.3,.0007],[-.24,.0008],[-.17,.0007],[-.11,.0008],[-.05,.0007],[.01,.0008],[.07,.0007],[.12,.0008],[.18,.0007],[.25,.0008],[.33,.0007],[-.35,.0002],[-.28,.0002],[-.23,.0002],[-.17,.0002],[-.11,.0002],[-.05,.0002],[.01,.0002],[.07,.0002],[.13,.0002],[.19,.0002],[.25,.0002],[.31,.0002],[.37,.0002],[-.08,.0016],[.01,.0015],[.08,.0016],[.17,.0015]];
const insectUrbanPts=[[-.225,.891],[.065,.843],[.36,.819],[-.075,.796],[.13,.71],[-.34,.647],[-.11,.61],[-.35,.56],[.16,.558],[.18,.546],[-.24,.475],[.27,.437],[.075,.424],[-.17,.327],[.4,.3],[-.38,.275],[-.015,.273],[.345,.25],[-.22,.197],[-.155,.162],[-.04,.159],[-.38,.143],[-.13,.145],[-.3,.127],[-.06,.119],[-.095,.117],[-.33,.109],[-.35,.103],[-.205,.105],[-.105,.099],[.37,.1],[.24,.092],[.155,.088],[.17,.083],[.15,.059],[.11,.053],[.31,.053],[.365,.055],[.325,.05],[.385,.048],[-.21,.048],[.085,.043],[.365,.038],[-.07,.03],[.235,.031],[-.28,.029],[-.17,.025],[-.24,.024],[-.07,.027],[.25,.026],[.35,.027],[.36,.023],[.02,.024],[-.15,.019],[-.11,.02],[-.205,.018],[-.25,.0165],[-.07,.015],[.155,.0175],[.14,.0155],[.32,.0158],[.36,.0148],[.38,.0195],[-.38,.0135],[-.28,.0125],[-.22,.011],[-.12,.012],[-.09,.012],[.04,.0125],[.24,.012],[.3,.0105],[.37,.011],[-.38,.0095],[-.36,.0098],[-.33,.0102],[-.29,.0098],[-.24,.0095],[-.2,.0085],[-.1,.0082],[.1,.0085],[.2,.0078],[.27,.009],[.36,.0085],[.38,.0095],[-.39,.0075],[-.36,.0072],[-.33,.0078],[-.29,.007],[-.26,.0076],[-.22,.0068],[-.13,.0072],[.07,.0068],[.16,.007],[.26,.0065],[.34,.0072],[.39,.007],[-.4,.0056],[-.37,.0052],[-.34,.0058],[-.31,.005],[-.28,.0055],[-.25,.005],[-.2,.0058],[-.16,.005],[.11,.0055],[.2,.005],[.3,.0056],[.35,.005],[.39,.0056],[-.4,.0038],[-.37,.0042],[-.34,.0036],[-.31,.004],[-.28,.0036],[-.25,.0042],[-.22,.0036],[-.18,.004],[-.13,.0036],[-.07,.004],[.03,.0036],[.09,.004],[.15,.0036],[.21,.004],[.26,.0042],[.3,.0036],[.34,.004],[.37,.0036],[.4,.004],[-.4,.0027],[-.37,.0025],[-.34,.0027],[-.31,.0025],[-.28,.0027],[-.25,.0025],[-.22,.0027],[-.18,.0025],[-.14,.0027],[-.1,.0025],[-.05,.0027],[.01,.0025],[.06,.0027],[.11,.0025],[.16,.0027],[.2,.0025],[.24,.0027],[.28,.0025],[.32,.0027],[.36,.0025],[.4,.0027],[-.4,.0017],[-.37,.0015],[-.34,.0017],[-.31,.0015],[-.28,.0017],[-.24,.0015],[-.21,.0017],[-.17,.0015],[-.13,.0017],[-.09,.0015],[-.05,.0017],[0,.0015],[.05,.0017],[.1,.0015],[.14,.0017],[.18,.0015],[.22,.0017],[.26,.0015],[.3,.0017],[.34,.0015],[.37,.0017],[.4,.0015],[-.4,.0009],[-.37,.0008],[-.34,.0009],[-.31,.0008],[-.27,.0009],[-.24,.0008],[-.2,.0009],[-.16,.0008],[-.12,.0009],[-.08,.0008],[-.04,.0009],[.01,.0008],[.05,.0009],[.09,.0008],[.13,.0009],[.17,.0008],[.21,.0009],[.25,.0008],[.29,.0009],[.33,.0008],[.37,.0009],[.4,.0008],[-.4,.0003],[-.36,.00035],[-.33,.0003],[-.29,.00035],[-.26,.0003],[-.22,.00035],[-.18,.0003],[-.14,.00035],[-.1,.0003],[-.06,.00035],[-.02,.0003],[.03,.00035],[.07,.0003],[.11,.00035],[.15,.0003],[.19,.00035],[.23,.0003],[.27,.00035],[.31,.0003],[.35,.00035],[.4,.0003],[-.39,.00005],[-.34,.00006],[-.29,.00005],[-.24,.00006],[-.19,.00005],[-.14,.00006],[-.09,.00005],[-.04,.00006],[.01,.00005],[.06,.00006],[.11,.00005],[.16,.00006],[.21,.00005],[.26,.00006],[.31,.00005],[.36,.00006],[.39,.00005]];
const insectUrbanExtra=[[-.39,.0033],[-.36,.0032],[-.33,.0031],[-.3,.0032],[-.26,.0033],[-.23,.0031],[-.19,.0032],[-.15,.0031],[-.1,.0032],[-.03,.0031],[.06,.0032],[.12,.0031],[.18,.0032],[.24,.0031],[.29,.0033],[.33,.0032],[.38,.0033],[-.38,.002],[-.35,.0021],[-.32,.002],[-.29,.0021],[-.26,.002],[-.23,.0021],[-.2,.002],[-.15,.0021],[-.11,.002],[-.06,.0021],[-.01,.002],[.04,.0021],[.08,.002],[.13,.0021],[.17,.002],[.22,.0021],[.27,.002],[.31,.0021],[.35,.002],[.39,.0021],[-.39,.0012],[-.36,.0012],[-.33,.0012],[-.29,.0012],[-.26,.0012],[-.22,.0012],[-.18,.0012],[-.14,.0012],[-.1,.0012],[-.06,.0012],[-.02,.0012],[.02,.0012],[.07,.0012],[.12,.0012],[.16,.0012],[.2,.0012],[.24,.0012],[.28,.0012],[.32,.0012],[.36,.0012],[.39,.0012],[-.38,.0006],[-.34,.0006],[-.3,.0006],[-.26,.0006],[-.22,.0006],[-.17,.0006],[-.13,.0006],[-.09,.0006],[-.05,.0006],[-.01,.0006],[.04,.0006],[.08,.0006],[.12,.0006],[.17,.0006],[.21,.0006],[.26,.0006],[.3,.0006],[.34,.0006],[.38,.0006],[-.37,.00016],[-.32,.00016],[-.27,.00016],[-.22,.00016],[-.17,.00016],[-.12,.00016],[-.07,.00016],[-.02,.00016],[.03,.00016],[.08,.00016],[.13,.00016],[.18,.00016],[.23,.00016],[.28,.00016],[.33,.00016],[.38,.00016]];
const seaRuralPts=[[-.03,.0018],[.235,.0022],[.085,.0012],[.09,.0009],[-.13,.00075],[-.1,.0006],[-.06,.0005],[.12,.0006],[.08,.0006],[.34,.00055],[.17,.0004],[-.36,.0004],[.04,.0004],[.13,.0004],[.24,.0003],[.27,.0002],[.36,.00035],[.3,.00022],[-.32,.00012],[-.28,.00014],[-.2,.00012],[-.12,.00016],[-.05,.00012],[.02,.00015],[.19,.00015],[.25,.00014],[.32,.00015],[-.39,.00002],[-.35,.00001],[-.31,.00002],[-.27,.00001],[-.23,.00002],[-.19,.00001],[-.15,.00002],[-.11,.00001],[-.07,.00002],[-.03,.00001],[.01,.00002],[.05,.00001],[.09,.00002],[.13,.00001],[.17,.00002],[.21,.00001],[.25,.00002],[.29,.00001],[.33,.00002],[.37,.00001],[.4,.00002],[-.37,0],[-.29,0],[-.21,0],[-.13,0],[-.05,0],[.03,0],[.11,0],[.19,0],[.27,0],[.35,0]];
const seaUrbanPts=[[.14,.0115],[.12,.0018],[-.39,.0021],[-.38,.0016],[-.22,.0032],[-.07,.0028],[.11,.003],[-.05,.0014],[-.19,.0012],[-.39,.0009],[-.325,.001],[.18,.0009],[.2,.001],[.28,.001],[.36,.0009],[-.315,.0006],[-.26,.0005],[-.22,.0005],[-.16,.0006],[-.13,.0006],[-.11,.0008],[.07,.0006],[.1,.00055],[.14,.0005],[.23,.0006],[.32,.0006],[-.38,.0004],[-.34,.00035],[-.3,.00035],[-.27,.0003],[-.2,.00035],[-.08,.0004],[.03,.0004],[.05,.00035],[.17,.0004],[.26,.00045],[.34,.0004],[.38,.00035],[-.39,.00022],[-.36,.0002],[-.33,.00024],[-.29,.0002],[-.25,.00022],[-.21,.0002],[-.17,.00024],[-.13,.0002],[-.09,.00022],[-.05,.0002],[0,.00024],[.04,.0002],[.08,.00022],[.12,.0002],[.16,.00024],[.2,.0002],[.24,.00022],[.28,.0002],[.32,.00024],[.36,.0002],[.4,.00022],[-.4,.0001],[-.37,.00012],[-.34,.0001],[-.31,.00012],[-.28,.0001],[-.25,.00012],[-.22,.0001],[-.19,.00012],[-.16,.0001],[-.13,.00012],[-.1,.0001],[-.07,.00012],[-.04,.0001],[-.01,.00012],[.02,.0001],[.05,.00012],[.08,.0001],[.11,.00012],[.14,.0001],[.17,.00012],[.2,.0001],[.23,.00012],[.26,.0001],[.29,.00012],[.32,.0001],[.35,.00012],[.38,.0001],[.4,.00012],[-.4,.00004],[-.37,.00003],[-.34,.00004],[-.31,.00003],[-.28,.00004],[-.25,.00003],[-.22,.00004],[-.19,.00003],[-.16,.00004],[-.13,.00003],[-.1,.00004],[-.07,.00003],[-.04,.00004],[-.01,.00003],[.02,.00004],[.05,.00003],[.08,.00004],[.11,.00003],[.14,.00004],[.17,.00003],[.2,.00004],[.23,.00003],[.26,.00004],[.29,.00003],[.32,.00003],[.35,.00004],[.38,.00003],[.4,.00004],[-.38,.000005],[-.33,0],[-.28,.000005],[-.23,0],[-.18,.000005],[-.13,0],[-.08,.000005],[-.03,0],[.02,.000005],[.07,0],[.12,.000005],[.17,0],[.22,.000005],[.27,0],[.32,.000005],[.37,0]];

const violins=[[chloroRuralViolin,chloroUrbanViolin],[soilRuralViolin,soilUrbanViolin],[skinRuralViolin,skinUrbanViolin],[stoolRuralViolin,stoolUrbanViolin],[insectRuralViolin,insectUrbanViolin],[seaRuralViolin,seaUrbanViolin]];
const points=[[chloroRuralPts.concat(chloroRuralExtra),chloroUrbanPts.concat(chloroUrbanExtra)],[soilRuralPts.concat(soilRuralExtra),soilUrbanPts.concat(soilUrbanExtra)],[skinRuralPts.concat(skinRuralExtra),skinUrbanPts.concat(skinUrbanExtra)],[stoolRuralPts.concat(stoolRuralExtra),stoolUrbanPts.concat(stoolUrbanExtra)],[insectRuralPts.concat(insectRuralExtra),insectUrbanPts.concat(insectUrbanExtra)],[seaRuralPts,seaUrbanPts]];

// layout
const FONT='"Liberation Sans",Arial,sans-serif';
const colX=[93.3,329.7,566],panelW=229.2,rowTop=[25,402],panelH=347,zeroY=[356.5,733.5],unitPx=335;
const stripDx=[13.7,0,10,2.5,4.5,1];
const violinColor=["#a9e46c","#a8a8a8"];
const ptFill=["rgba(66,125,10,.30)","rgba(45,45,45,.38)"];
const ptStroke=["rgba(50,65,35,.50)","rgba(30,30,30,.50)"];
const svg=d3.select("#c");
svg.append("rect").attr("width",799).attr("height",780).attr("fill","#fff");

panelTitles.forEach((title,i)=>{
  const col=i%3,row=Math.floor(i/3),L=colX[col],T=rowTop[row];
  const x=d3.scalePoint().domain(groups).range([L,L+panelW]).padding(0.6);
  const y=d3.scaleSqrt().domain([0,1]).range([zeroY[row],zeroY[row]-unitPx]);
  const g=svg.append("g");
  const clipId="clip"+i;
  g.append("clipPath").attr("id",clipId).append("rect").attr("x",L).attr("y",T).attr("width",panelW).attr("height",panelH);
  g.append("rect").attr("x",L).attr("y",T).attr("width",panelW).attr("height",panelH).attr("fill","#fff");
  g.selectAll(null).data(yMinorValues).join("line").attr("x1",L).attr("x2",L+panelW).attr("y1",d=>y(d)).attr("y2",d=>y(d)).attr("stroke","#f5f5f5").attr("stroke-width",1);
  g.selectAll(null).data(yTickValues).join("line").attr("x1",L).attr("x2",L+panelW).attr("y1",d=>y(d)).attr("y2",d=>y(d)).attr("stroke","#ebebeb").attr("stroke-width",1);
  g.selectAll(null).data(groups).join("line").attr("x1",d=>x(d)).attr("x2",d=>x(d)).attr("y1",T).attr("y2",T+panelH).attr("stroke","#ebebeb").attr("stroke-width",1);
  const content=g.append("g").attr("clip-path",`url(#${clipId})`);
  const widthScale=d3.scaleLinear().domain([0,1]).range([0,0.45*x.step()]);
  groups.forEach((grp,k)=>{
    const cx=x(grp);
    const area=d3.area().y(d=>y(d[0])).x0(d=>cx-widthScale(d[1])).x1(d=>cx+widthScale(d[1])).curve(d3.curveMonotoneY);
    content.append("path").attr("d",area(violins[i][k])).attr("fill",violinColor[k]).attr("fill-opacity",.95).attr("stroke","#333").attr("stroke-width",1.6).attr("stroke-linejoin","round");
  });
  groups.forEach((grp,k)=>{
    const cx=x(grp);
    content.append("g").selectAll("circle").data(points[i][k]).join("circle")
      .attr("cx",d=>cx+d[0]*x.step()).attr("cy",d=>y(d[1])).attr("r",2.1)
      .attr("fill",ptFill[k]).attr("stroke",ptStroke[k]).attr("stroke-width",1);
  });
  content.append("line").attr("x1",L).attr("x2",L+panelW).attr("y1",y(panelMeans[i])).attr("y2",y(panelMeans[i])).attr("stroke","#0a0a0a").attr("stroke-width",1.6);
  g.append("rect").attr("x",L).attr("y",T).attr("width",panelW).attr("height",panelH).attr("fill","none").attr("stroke","#9a9a9a").attr("stroke-width",1.2);
  g.append("rect").attr("x",L).attr("y",T-23.5).attr("width",panelW).attr("height",23.5).attr("fill","#cccccc").attr("stroke","#9a9a9a").attr("stroke-width",1);
  g.append("text").attr("x",L+panelW/2+stripDx[i]).attr("y",T-5.5).attr("text-anchor","middle").attr("font-family",FONT).attr("font-size",22).attr("fill","#000").text(title);
  if(col===0){
    const ax=d3.axisLeft(y).tickValues(yTickValues).tickFormat((d,n)=>yTickLabels[n]).tickSize(7).tickPadding(3);
    const ga=g.append("g").attr("transform",`translate(${L},0)`).call(ax);
    ga.select(".domain").remove();
    ga.selectAll("line").attr("stroke","#111").attr("stroke-width",1.2);
    ga.selectAll("text").attr("font-family",FONT).attr("font-size",24.5).attr("fill","#000").attr("dy","0.36em");
  }
  if(row===1){
    const ax=d3.axisBottom(x).tickSize(6.5).tickPadding(1.5);
    const ga=g.append("g").attr("transform",`translate(0,${T+panelH})`).call(ax);
    ga.select(".domain").remove();
    ga.selectAll("line").attr("stroke","#111").attr("stroke-width",1.2);
    ga.selectAll("text").attr("font-family",FONT).attr("font-size",24.8).attr("fill","#000").attr("dx",-3.5);
  }
});
svg.append("text").attr("transform","translate(27.5,387.5) rotate(-90)").attr("text-anchor","middle").attr("font-family",FONT).attr("font-size",31.5).attr("font-weight","bold").attr("fill","#000").text("Proportion");
</script></body></html>
